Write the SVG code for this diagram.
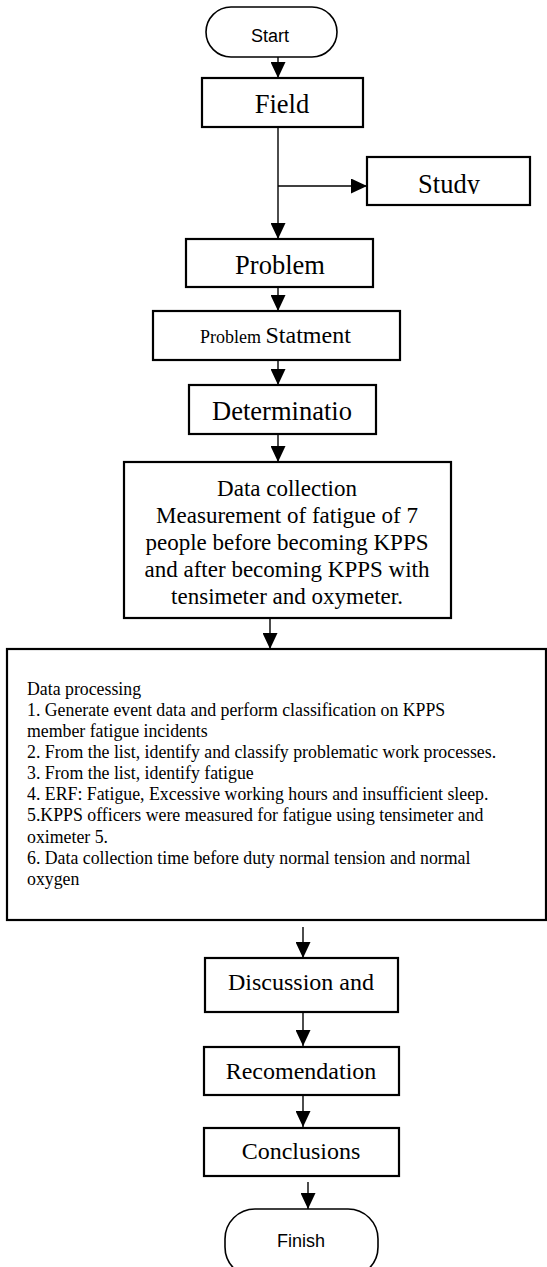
<svg xmlns="http://www.w3.org/2000/svg" width="547" height="1267" viewBox="0 0 547 1267">
<style>
.box{fill:#fff;stroke:#000;stroke-width:2.2}
.term{fill:#fff;stroke:#000;stroke-width:1.6}
.t{font-family:"Liberation Serif","Times New Roman",serif;fill:#000}
.big{font-size:26.5px;text-anchor:middle}
.mid{font-size:24px;text-anchor:middle}
.dc{font-size:23px;text-anchor:middle}
.dp{font-size:17.8px}
.s{font-family:"Liberation Sans",Arial,sans-serif;font-size:18px;text-anchor:middle;fill:#000}
.c{stroke:#000;stroke-width:1.4;fill:none}
</style>
<defs>
<marker id="ah" markerWidth="16" markerHeight="15" refX="16" refY="7.5" orient="auto" markerUnits="userSpaceOnUse" viewBox="0 0 16 15">
<path d="M0,0 L16,7.5 L0,15 Z" fill="#000"/>
</marker>
<clipPath id="studyclip"><rect x="368" y="158" width="161" height="36"/></clipPath>
</defs>
<g id="connectors">
<line class="c" x1="278" y1="57" x2="278" y2="78" marker-end="url(#ah)"/>
<line class="c" x1="278" y1="127" x2="278" y2="239" marker-end="url(#ah)"/>
<line class="c" x1="278" y1="186" x2="367" y2="186" marker-end="url(#ah)"/>
<line class="c" x1="278" y1="287" x2="278" y2="311" marker-end="url(#ah)"/>
<line class="c" x1="278" y1="360" x2="278" y2="385" marker-end="url(#ah)"/>
<line class="c" x1="278" y1="434" x2="278" y2="462" marker-end="url(#ah)"/>
<line class="c" x1="270" y1="618" x2="270" y2="649" marker-end="url(#ah)"/>
<line class="c" x1="303" y1="927" x2="303" y2="958" marker-end="url(#ah)"/>
<line class="c" x1="303" y1="1012" x2="303" y2="1046" marker-end="url(#ah)"/>
<line class="c" x1="303" y1="1095" x2="303" y2="1127" marker-end="url(#ah)"/>
<line class="c" x1="308" y1="1182" x2="308" y2="1209" marker-end="url(#ah)"/>
</g>
<g id="start">
<rect class="term" x="206" y="7" width="131" height="50" rx="25" ry="25"/>
<text class="s" x="270" y="42">Start</text>
</g>
<g id="field">
<rect class="box" x="202" y="78" width="161" height="49"/>
<text class="t big" x="282" y="113">Field</text>
</g>
<g id="study">
<rect class="box" x="367" y="157" width="163" height="48"/>
<text class="t big" x="449" y="193" clip-path="url(#studyclip)">Study</text>
</g>
<g id="problem">
<rect class="box" x="186" y="239" width="187" height="48"/>
<text class="t big" x="280" y="274">Problem</text>
</g>
<g id="problem-statement">
<rect class="box" x="153" y="311" width="247" height="49"/>
<text class="t" x="200" y="343"><tspan font-size="18">Problem </tspan><tspan font-size="24">Statment</tspan></text>
</g>
<g id="determination">
<rect class="box" x="189" y="385" width="187" height="49"/>
<text class="t big" x="282" y="420">Determinatio</text>
</g>
<g id="data-collection">
<rect class="box" x="124" y="462" width="327" height="156"/>
<text class="t dc" x="287" y="496">Data collection</text>
<text class="t dc" x="287" y="523">Measurement of fatigue of 7</text>
<text class="t dc" x="287" y="550">people before becoming KPPS</text>
<text class="t dc" x="287" y="577">and after becoming KPPS with</text>
<text class="t dc" x="287" y="604">tensimeter and oxymeter.</text>
</g>
<g id="data-processing">
<rect class="box" x="7" y="649" width="539" height="271"/>
<text class="t dp" x="27" y="695">Data processing</text>
<text class="t dp" x="27" y="716">1. Generate event data and perform classification on KPPS</text>
<text class="t dp" x="27" y="737">member fatigue incidents</text>
<text class="t dp" x="27" y="758">2. From the list, identify and classify problematic work processes.</text>
<text class="t dp" x="27" y="779">3. From the list, identify fatigue</text>
<text class="t dp" x="27" y="800">4. ERF: Fatigue, Excessive working hours and insufficient sleep.</text>
<text class="t dp" x="27" y="821">5.KPPS officers were measured for fatigue using tensimeter and</text>
<text class="t dp" x="27" y="843">oximeter 5.</text>
<text class="t dp" x="27" y="864">6. Data collection time before duty normal tension and normal</text>
<text class="t dp" x="27" y="885">oxygen</text>
</g>
<g id="discussion">
<rect class="box" x="205" y="958" width="193" height="54"/>
<text class="t mid" x="301" y="990">Discussion and</text>
</g>
<g id="recomendation">
<rect class="box" x="204" y="1047" width="195" height="48"/>
<text class="t mid" x="301" y="1079">Recomendation</text>
</g>
<g id="conclusions">
<rect class="box" x="204" y="1128" width="195" height="48"/>
<text class="t mid" x="301" y="1159">Conclusions</text>
</g>
<g id="finish">
<rect class="term" x="225" y="1209" width="153" height="68" rx="30" ry="30"/>
<text class="s" x="301" y="1247">Finish</text>
</g>
</svg>
